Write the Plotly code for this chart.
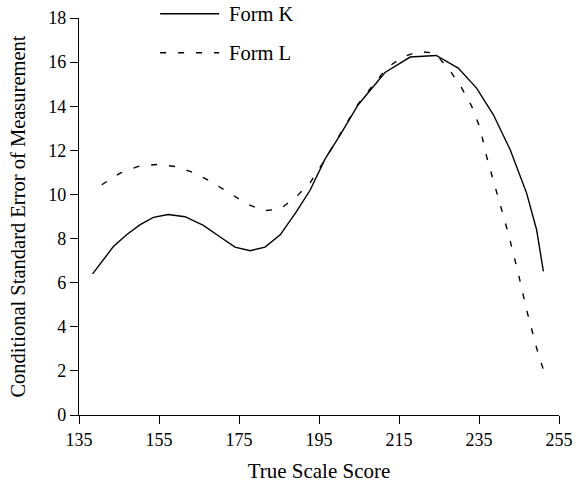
import plotly.graph_objects as go

# True scale score (x) and conditional SEM (y) for each form
form_k_x = [138.4, 143.6, 146.9, 150.3, 153.6, 157.3, 161.5, 166.1, 170.3, 174.0,
            177.8, 181.5, 185.3, 189.4, 192.8, 196.5, 200.3, 204.8, 211.5, 217.8,
            224.3, 229.8, 234.4, 238.6, 242.8, 246.9, 249.4, 251.1]
form_k_y = [6.40, 7.64, 8.17, 8.63, 8.96, 9.09, 8.99, 8.60, 8.07, 7.61,
            7.45, 7.61, 8.17, 9.23, 10.20, 11.60, 12.70, 14.07, 15.53, 16.23,
            16.30, 15.73, 14.82, 13.61, 12.03, 10.06, 8.40, 6.51]

form_l_x = [140.7, 145.3, 149.8, 154.4, 159.0, 164.0, 168.2, 172.8, 176.9, 181.1,
            185.3, 189.4, 192.8, 195.7, 200.3, 204.8, 211.9, 215.7, 219.8, 224.0,
            227.8, 230.7, 233.2, 235.3, 236.9, 239.8, 242.3, 244.8, 246.9, 249.4, 251.1]
form_l_y = [10.44, 10.97, 11.27, 11.36, 11.27, 10.97, 10.56, 10.06, 9.58, 9.26,
            9.34, 9.91, 10.54, 11.35, 12.75, 14.10, 15.73, 16.21, 16.48, 16.41,
            15.60, 14.82, 13.99, 13.00, 11.72, 9.91, 8.25, 6.44, 4.77, 3.04, 2.05]

series_names = ["Form K", "Form L"]
x_ticks = [135, 155, 175, 195, 215, 235, 255]
y_ticks = [0, 2, 4, 6, 8, 10, 12, 14, 16, 18]

FONT = "Liberation Serif"
DASH = "6px,12px"
line_styles = [dict(color="black", width=1.4), dict(color="black", width=1.4, dash=DASH)]

fig = go.Figure()
for name, xs, ys, style in zip(series_names, [form_k_x, form_l_x], [form_k_y, form_l_y], line_styles):
    fig.add_trace(go.Scatter(x=xs, y=ys, mode="lines", name=name, line=style, showlegend=False))

axis_common = dict(
    showgrid=False, zeroline=False, showline=True, linecolor="black", linewidth=1.3,
    ticks="outside", ticklen=8, tickwidth=1.2, tickcolor="black",
    tickfont=dict(family=FONT, size=18, color="black"),
)

fig.update_xaxes(
    range=[135, 255], tickvals=x_ticks, **axis_common,
    title=dict(text="True Scale Score", font=dict(family=FONT, size=21, color="black"), standoff=14),
)
fig.update_yaxes(range=[0, 18], tickvals=y_ticks, **axis_common)

# Vertical axis title, placed a fixed distance left of the plot area
fig.add_annotation(xref="paper", yref="paper", x=-0.129, y=0.5, xanchor="center", yanchor="middle",
                   text="Conditional Standard Error of Measurement", textangle=-90, showarrow=False,
                   font=dict(family=FONT, size=20.5, color="black"))

# Key in the upper left: sample line followed by the series name
key_rows_y = [1.0108, 0.9126]
for name, style, ky in zip(series_names, line_styles, key_rows_y):
    fig.add_shape(type="line", xref="paper", yref="paper",
                  x0=0.169, x1=0.292, y0=ky, y1=ky, line=style)
    fig.add_annotation(xref="paper", yref="paper", x=0.308, y=ky, text=name,
                       showarrow=False, xanchor="left", yanchor="middle",
                       font=dict(family=FONT, size=20.5, color="black"))

fig.update_layout(
    width=578, height=485,
    margin=dict(l=79, r=19, t=18, b=70, autoexpand=False),
    plot_bgcolor="white", paper_bgcolor="white",
    showlegend=False,
)

fig.write_html("out.html")
